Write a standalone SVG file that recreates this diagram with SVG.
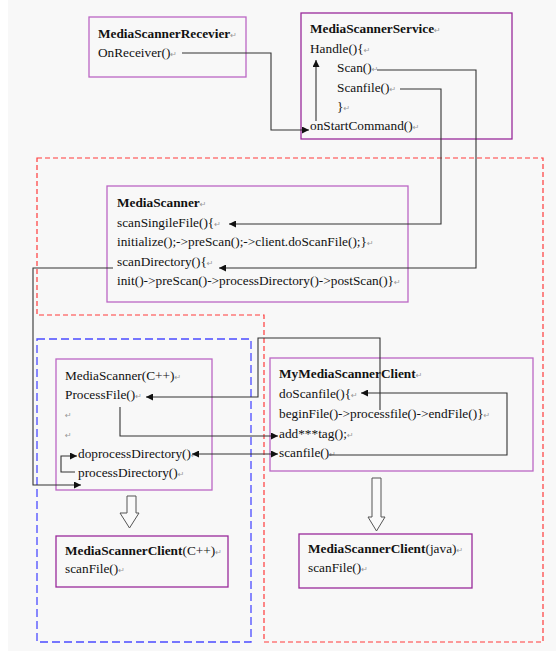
<svg xmlns="http://www.w3.org/2000/svg" width="556" height="651" viewBox="0 0 556 651">
<defs>
<style>
text{font-family:"Liberation Serif","Times New Roman",serif;font-size:13.3px;fill:#111}
.b{font-weight:bold}
.pm{font-family:"DejaVu Sans",sans-serif;font-size:8px;fill:#999;font-weight:normal}
.box{fill:none;stroke-width:1.3}
.d{stroke:#992a9a}
.l{stroke:#bb66c4}
.c{fill:none;stroke:#333;stroke-width:1.1}
.ha{fill:#fafafa;stroke:#555;stroke-width:1}
</style>
<marker id="a" viewBox="0 0 10 10" refX="10" refY="5" markerWidth="8" markerHeight="7" markerUnits="userSpaceOnUse" orient="auto-start-reverse">
<path d="M0,0 L10,5 L0,10 z" fill="#111"/>
</marker>
</defs>
<rect x="8" y="0" width="548" height="651" fill="#f8f8f8"/>
<g id="regions">
<path d="M37,158 H543 V642 H264 V315 H37 Z" fill="none" stroke="#ff3b3b" stroke-width="1.2" stroke-dasharray="5 3"/>
<rect x="37" y="339" width="214" height="303" fill="none" stroke="#4b4bff" stroke-width="1.3" stroke-dasharray="8 4"/>
</g>
<g id="receiver">
<rect class="box l" x="89" y="17" width="157" height="60"/>
<text x="98" y="38" class="b">MediaScannerRecevier<tspan class="pm">↵</tspan></text>
<text x="98" y="57">OnReceiver()<tspan class="pm">↵</tspan></text>
</g>
<g id="service">
<rect class="box d" x="301" y="13" width="211" height="126"/>
<text x="310" y="33" class="b">MediaScannerService<tspan class="pm">↵</tspan></text>
<text x="310" y="53">Handle(){<tspan class="pm">↵</tspan></text>
<text x="337" y="72">Scan()<tspan class="pm">↵</tspan></text>
<text x="337" y="92">Scanfile()<tspan class="pm">↵</tspan></text>
<text x="337" y="111">}<tspan class="pm">↵</tspan></text>
<text x="310" y="130">onStartCommand()<tspan class="pm">↵</tspan></text>
</g>
<g id="mediascanner">
<rect class="box l" x="107" y="186" width="301" height="116"/>
<text x="117" y="207" class="b">MediaScanner<tspan class="pm">↵</tspan></text>
<text x="117" y="227">scanSingileFile(){<tspan class="pm">↵</tspan></text>
<text x="117" y="246">initialize();-&gt;preScan();-&gt;client.doScanFile();}<tspan class="pm">↵</tspan></text>
<text x="117" y="266">scanDirectory(){<tspan class="pm">↵</tspan></text>
<text x="117" y="285">init()-&gt;preScan()-&gt;processDirectory()-&gt;postScan()}<tspan class="pm">↵</tspan></text>
</g>
<g id="mediascanner-cpp">
<rect class="box l" x="56" y="359" width="156" height="131"/>
<text x="65" y="380">MediaScanner(C++)<tspan class="pm">↵</tspan></text>
<text x="65" y="399">ProcessFile()<tspan class="pm">↵</tspan></text>
<text x="65" y="418" class="pm">↵</text>
<text x="65" y="438" class="pm">↵</text>
<text x="78" y="458">doprocessDirectory()<tspan class="pm">↵</tspan></text>
<text x="78" y="477">processDirectory()<tspan class="pm">↵</tspan></text>
</g>
<g id="client">
<rect class="box l" x="270" y="358" width="263" height="113"/>
<text x="279" y="378" class="b">MyMediaScannerClient<tspan class="pm">↵</tspan></text>
<text x="279" y="398">doScanfile(){<tspan class="pm">↵</tspan></text>
<text x="279" y="418">beginFile()-&gt;processfile()-&gt;endFile()}<tspan class="pm">↵</tspan></text>
<text x="279" y="438">add***tag();<tspan class="pm">↵</tspan></text>
<text x="279" y="457">scanfile()<tspan class="pm">↵</tspan></text>
</g>
<g id="client-cpp">
<rect class="box d" x="56" y="536" width="172" height="51"/>
<text x="65" y="555" class="b">MediaScannerClient<tspan font-weight="normal">(C++)</tspan><tspan class="pm">↵</tspan></text>
<text x="65" y="573">scanFile()<tspan class="pm">↵</tspan></text>
</g>
<g id="client-java">
<rect class="box d" x="299" y="534" width="173" height="54"/>
<text x="308" y="553" class="b">MediaScannerClient<tspan font-weight="normal">(java)</tspan><tspan class="pm">↵</tspan></text>
<text x="308" y="572">scanFile()<tspan class="pm">↵</tspan></text>
</g>
<g id="connectors">
<path class="c" d="M182,53 H271 V130 H309" marker-end="url(#a)"/>
<path class="c" d="M316,121 V60" marker-end="url(#a)"/>
<path class="c" d="M377,70 H476 V268 H219" marker-end="url(#a)"/>
<path class="c" d="M400,89 H441 V224 H229" marker-end="url(#a)"/>
<path class="c" d="M113,268 H33 V485 H81" marker-end="url(#a)"/>
<path class="c" d="M75,472 H61 V456 H77" marker-end="url(#a)"/>
<path class="c" d="M380,410 V338 H258 V397 H146" marker-end="url(#a)"/>
<path class="c" d="M120,407 V436 H278" marker-end="url(#a)"/>
<path class="c" d="M192,454 H278" marker-start="url(#a)" marker-end="url(#a)"/>
<path class="c" d="M329,455 H507 V393 H361" marker-end="url(#a)"/>
<path class="ha" d="M127,496 H136 V513 H139 L129.5,528 L120,513 H127 Z"/>
<path class="ha" d="M372,478 H381 V517 H385 L376.5,531 L368,517 H372 Z"/>
</g>
</svg>
